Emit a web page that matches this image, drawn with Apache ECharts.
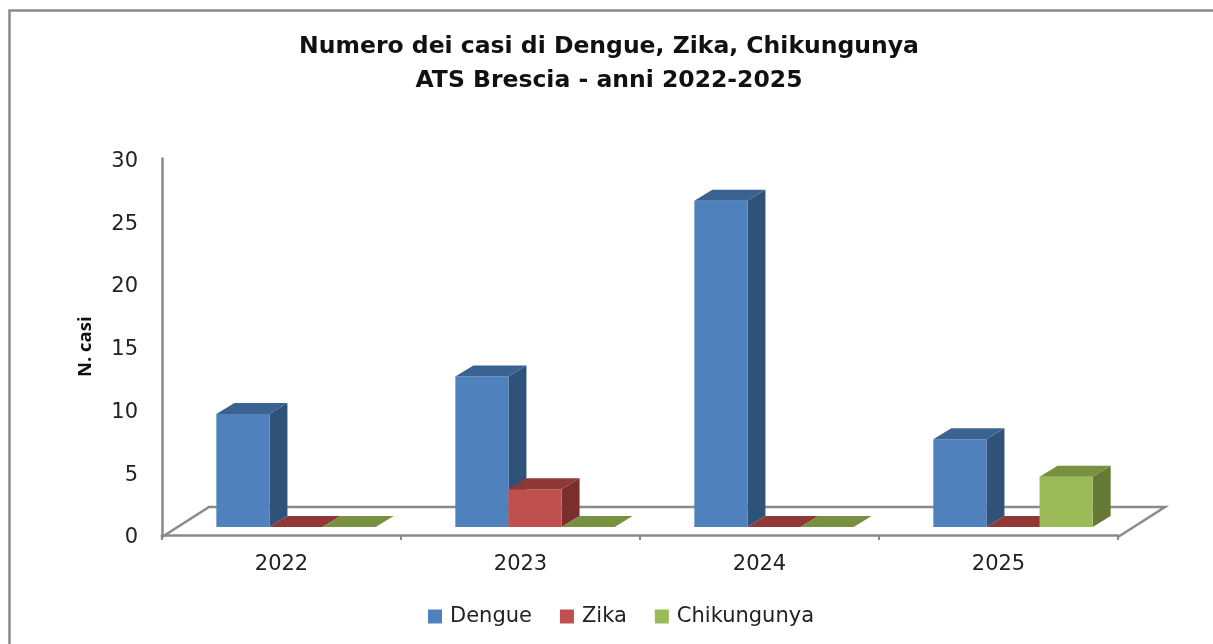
<!DOCTYPE html>
<html><head><meta charset="utf-8">
<style>html,body{margin:0;padding:0;background:#fff}#c{width:1213px;height:644px}</style>
<script src="https://cdn.jsdelivr.net/npm/echarts@6/dist/echarts.min.js"></script>
</head><body><div id="c"></div>
<script>
const titleText = "Numero dei casi di Dengue, Zika, Chikungunya\nATS Brescia - anni 2022-2025";
const years = ["2022", "2023", "2024", "2025"];
const dengue = [9, 12, 26, 7];
const zika = [0, 3, 0, 0];
const chikungunya = [0, 0, 0, 4];
const yAxisTitle = "N. casi";

const GRAY = "#8a8a8a";
const barDepth = [18, 11];
const barLift = 8;
const floorDepth = [47, 30];
const fontName = "'DejaVu Sans'";

function barRenderer(slot, faces) {
  return function (params, api) {
    const w = api.size([1, 0])[0] * 0.2222;
    const base = api.coord([api.value(0), 0]);
    const top = api.coord([api.value(0), api.value(1)]);
    const x0 = base[0] + 14.5 + (slot - 1.5) * w;
    const x1 = x0 + w;
    const y0 = base[1] - barLift;
    const y1 = top[1] - barLift;
    const dx = barDepth[0], dy = barDepth[1];
    const children = [];
    if (y0 > y1) {
      children.push({ type: "polygon", shape: { points: [[x1, y0], [x1 + dx, y0 - dy], [x1 + dx, y1 - dy], [x1, y1]] }, style: { fill: faces.side } });
      children.push({ type: "rect", shape: { x: x0, y: y1, width: w, height: y0 - y1 }, style: { fill: faces.front } });
    }
    children.push({ type: "polygon", shape: { points: [[x0, y1], [x0 + dx, y1 - dy], [x1 + dx, y1 - dy], [x1, y1]] }, style: { fill: faces.top } });
    return { type: "group", children };
  };
}

function floorRenderer(params, api) {
  const cs = params.coordSys;
  const y = cs.y + cs.height + 2;
  const l = cs.x, r = cs.x + cs.width;
  const dx = floorDepth[0], dy = floorDepth[1];
  return {
    type: "polyline",
    shape: { points: [[l, cs.y + cs.height], [l, y], [l + dx, y - dy], [r + dx, y - dy], [r, y]] },
    style: { stroke: GRAY, lineWidth: 2.5, fill: null }
  };
}

function barSeries(name, values, slot, faces) {
  return {
    name, type: "custom", z: 3, clip: false,
    itemStyle: { color: faces.front },
    encode: { x: 0, y: 1 },
    data: values.map((v, i) => [i, v]),
    renderItem: barRenderer(slot, faces)
  };
}

const chart = echarts.init(document.getElementById("c"), null, { renderer: "canvas" });
chart.setOption({
  animation: false,
  backgroundColor: "#fff",
  graphic: [{
    type: "polyline", silent: true,
    shape: { points: [[9.5, 644], [9.5, 10.5], [1213, 10.5]] },
    style: { stroke: GRAY, lineWidth: 2.5, fill: null }
  }],
  title: {
    text: titleText, left: 604, top: 25, textAlign: "center",
    textStyle: { fontFamily: fontName, fontWeight: "bold", fontSize: 23.5, lineHeight: 34, color: "#111" }
  },
  legend: {
    left: 423, top: 601, icon: "rect", itemWidth: 14, itemHeight: 14, itemGap: 28,
    textStyle: { fontFamily: fontName, fontSize: 21, color: "#222", padding: [0, 0, 0, 3] },
    data: ["Dengue", "Zika", "Chikungunya"]
  },
  grid: { left: 162, top: 158.5, width: 956, height: 376.5 },
  xAxis: {
    type: "category", data: years, offset: 2,
    axisLine: { lineStyle: { color: GRAY, width: 2.5 } },
    axisTick: { show: true, length: 5, lineStyle: { color: GRAY, width: 2 } },
    axisLabel: { color: "#222", fontFamily: fontName, fontSize: 21, margin: 17 }
  },
  yAxis: {
    type: "value", min: 0, max: 30, interval: 5,
    name: yAxisTitle, nameLocation: "middle", nameGap: 67,
    nameTextStyle: { fontFamily: "'Open Sans'", fontWeight: "bold", fontSize: 18.5, color: "#111" },
    axisLine: { show: true, lineStyle: { color: GRAY, width: 2.5 } },
    axisTick: { show: false },
    splitLine: { show: false },
    axisLabel: { color: "#222", fontFamily: fontName, fontSize: 21, margin: 24, verticalAlign: "top", lineHeight: 6 }
  },
  series: [
    { type: "custom", name: "floor", z: 1, silent: true, clip: false, data: [[0, 0]], encode: { x: 0, y: 1 }, renderItem: floorRenderer },
    barSeries("Dengue", dengue, 0, { front: "#4F81BD", side: "#2F5279", top: "#3B6391" }),
    barSeries("Zika", zika, 1, { front: "#C0504D", side: "#7A2F2D", top: "#903836" }),
    barSeries("Chikungunya", chikungunya, 2, { front: "#9BBB59", side: "#667A35", top: "#779140" })
  ]
});
</script></body></html>
